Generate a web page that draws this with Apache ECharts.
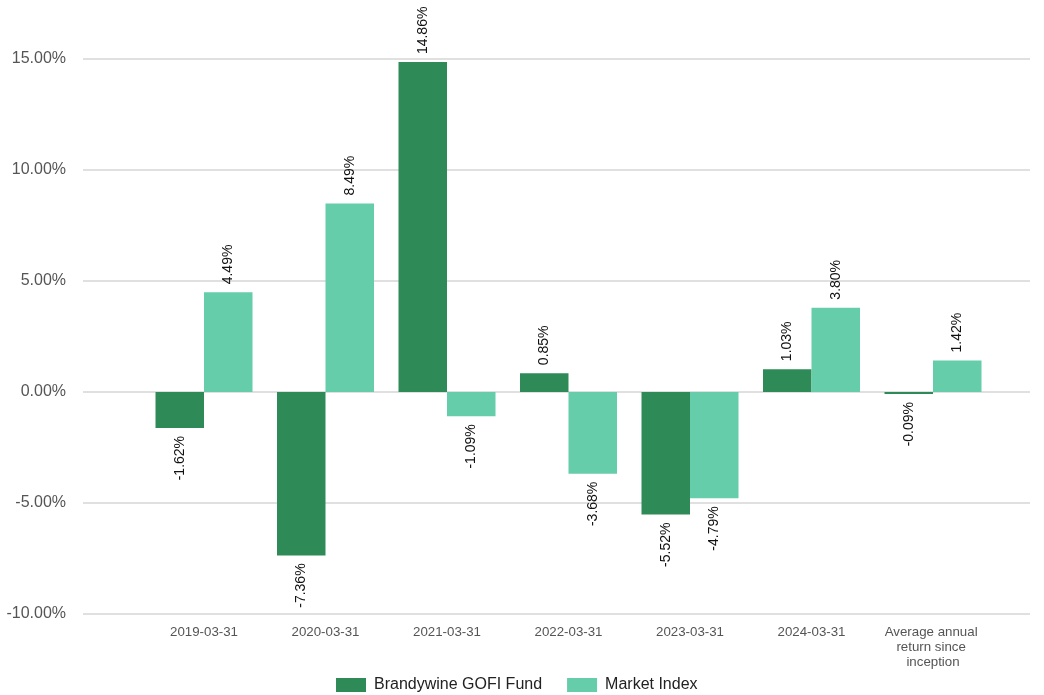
<!DOCTYPE html>
<html>
<head>
<meta charset="utf-8">
<script src="https://cdn.jsdelivr.net/npm/echarts@6/dist/echarts.min.js"></script>
<style>
html,body{margin:0;padding:0;background:#fff;}
#chart{width:1044px;height:695px;}
</style>
</head>
<body>
<div id="chart"></div>
<script>
const categories = ['2019-03-31','2020-03-31','2021-03-31','2022-03-31','2023-03-31','2024-03-31','Average annual return since inception'];
const fundName = 'Brandywine GOFI Fund';
const indexName = 'Market Index';
const fundValues = [-1.62, -7.36, 14.86, 0.85, -5.52, 1.03, -0.09];
const indexValues = [4.49, 8.49, -1.09, -3.68, -4.79, 3.80, 1.42];
const yTicks = [-10, -5, 0, 5, 10, 15];

const FONT = '"Liberation Sans", Arial, sans-serif';

function labelled(vals){
  return vals.map(v => ({
    value: v,
    label: v >= 0
      ? {position:'top', rotate:90, align:'left', verticalAlign:'middle', distance:8}
      : {position:'bottom', rotate:90, align:'right', verticalAlign:'middle', distance:8}
  }));
}

const chart = echarts.init(document.getElementById('chart'), null, {renderer:'canvas'});
const baseLabel = {
  show:true, color:'#111', fontSize:14, fontFamily:FONT,
  formatter: p => p.value.toFixed(2) + '%'
};
chart.setOption({
  animation:false,
  textStyle:{fontFamily:FONT},
  grid:[
    {left:83, right:14, top:59, bottom:81},
    {left:143.25, width:850.5, top:59, bottom:81}
  ],
  xAxis:[
    {gridIndex:0, type:'value', min:0, max:1, show:false},
    {gridIndex:1, type:'category', data:categories,
     axisLine:{show:false}, axisTick:{show:false},
     axisLabel:{color:'#555', fontSize:13.3, fontFamily:FONT, margin:11, interval:0,
       width:112, overflow:'break', lineHeight:15}}
  ],
  yAxis:[
    {gridIndex:0, type:'value', min:yTicks[0], max:yTicks[yTicks.length-1], interval:5,
     axisLine:{show:false}, axisTick:{show:false},
     axisLabel:{color:'#555', fontSize:16, fontFamily:FONT, margin:17,
       formatter: v => v.toFixed(2) + '%'},
     splitLine:{lineStyle:{color:'#e0e0e0', width:2}}},
    {gridIndex:1, type:'value', min:yTicks[0], max:yTicks[yTicks.length-1], interval:5,
     show:false, splitLine:{show:false}}
  ],
  legend:{
    top:672, left:331, itemWidth:30, itemHeight:14, itemGap:25,
    icon:'rect',
    textStyle:{color:'#222', fontSize:16, fontFamily:FONT, padding:[0,0,0,3]},
    data:[fundName, indexName]
  },
  series:[
    {name:fundName, type:'bar', xAxisIndex:1, yAxisIndex:1, barWidth:48.5, barGap:'0%',
     itemStyle:{color:'#2e8b57'}, label:baseLabel, data:labelled(fundValues)},
    {name:indexName, type:'bar', xAxisIndex:1, yAxisIndex:1, barWidth:48.5, barGap:'0%',
     itemStyle:{color:'#66cdaa'}, label:baseLabel, data:labelled(indexValues)}
  ]
});
</script>
</body>
</html>
